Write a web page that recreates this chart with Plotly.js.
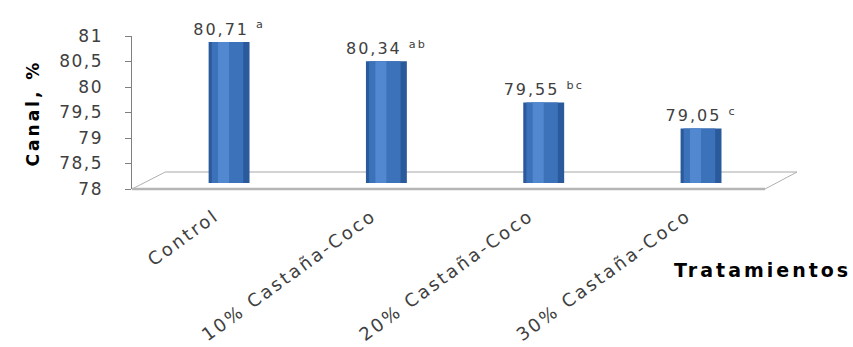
<!DOCTYPE html>
<html>
<head>
<meta charset="utf-8">
<script src="https://cdn.plot.ly/plotly-3.0.1.min.js"></script>
<style>
html,body{margin:0;padding:0;background:#fff;}
#chart{width:853px;height:347px;}
text{letter-spacing:2px;}
.xtick text{letter-spacing:2.5px;}
.ytick text, .y3tick text{letter-spacing:1.5px;}
.annotation-text{letter-spacing:3px;}
</style>
</head>
<body>
<div id="chart"></div>
<script>
const categories = ["Control", "10% Castaña-Coco", "20% Castaña-Coco", "30% Castaña-Coco"];
const values = [80.71, 80.34, 79.55, 79.05];
const letters = ["a", "ab", "bc", "c"];
const yTicks = [78, 78.5, 79, 79.5, 80, 80.5, 81];

const base = 78;
const barLen = values.map(v => v - base);
const labels = values.map((v, i) => v.toFixed(2).replace('.', ',') + ' <sup>' + letters[i] + '</sup>');

const fontFam = '"DejaVu Sans", Verdana, sans-serif';

const axisHolder = {type: 'scatter', mode: 'none', x: [], y: [], yaxis: 'y', hoverinfo: 'skip', showlegend: false};
const labelHolder = {type: 'scatter', mode: 'none', x: [], y: [], yaxis: 'y3', hoverinfo: 'skip', showlegend: false};

const outer = {
  type: 'bar', x: categories, y: barLen, base: base, yaxis: 'y2',
  width: 0.26, marker: {color: '#2a5a9c', line: {width: 0}},
  text: labels, textposition: 'outside', cliponaxis: false, constraintext: 'none',
  textfont: {family: fontFam, size: 16, color: '#404040'},
  hoverinfo: 'skip', showlegend: false
};
const mid = {
  type: 'bar', x: categories, y: barLen, base: base, yaxis: 'y2',
  width: 0.2, offset: -0.11, marker: {color: '#3b72ba', line: {width: 0}},
  hoverinfo: 'skip', showlegend: false
};
const hi = {
  type: 'bar', x: categories, y: barLen, base: base, yaxis: 'y2',
  width: 0.07, offset: -0.07, marker: {color: '#5288d0', line: {width: 0}},
  hoverinfo: 'skip', showlegend: false
};

const layout = {
  width: 853, height: 347,
  margin: {l: 103, r: 56, t: 36, b: 158},
  paper_bgcolor: '#ffffff', plot_bgcolor: 'rgba(0,0,0,0)',
  barmode: 'overlay',
  separators: ',.',
  font: {family: fontFam, color: '#404040'},
  xaxis: {
    type: 'category', range: [-0.617, 3.61], domain: [0.0418, 1],
    showline: false, showgrid: false, zeroline: false, ticks: '',
    tickangle: -36, tickfont: {family: fontFam, size: 18, color: '#404040'},
    ticklabelstandoff: 12, ticklabelshift: -14,
    fixedrange: true
  },
  yaxis: {
    range: [78, 81], tickvals: yTicks,
    showgrid: false, zeroline: false,
    showline: true, linecolor: '#808080', linewidth: 1,
    ticks: 'outside', ticklen: 6, tickcolor: '#808080',
    showticklabels: false,
    fixedrange: true
  },
  yaxis2: {
    overlaying: 'y', range: [77.885, 80.827], visible: false, fixedrange: true
  },
  yaxis3: {
    overlaying: 'y', anchor: 'free', position: 0, side: 'left',
    range: [78, 81], tickvals: yTicks,
    showgrid: false, zeroline: false, showline: false, ticks: '',
    tickfont: {family: fontFam, size: 17, color: '#404040'},
    fixedrange: true
  },
  shapes: [
    {type: 'line', xref: 'x domain', yref: 'y domain', x0: 0.05, y0: 0.111, x1: 1.0, y1: 0.111,
     line: {color: '#c4c4c4', width: 1.5}, layer: 'below'},
    {type: 'line', xref: 'x domain', yref: 'y domain', x0: 0, y0: 0, x1: 0.05, y1: 0.111,
     line: {color: '#b0b0b0', width: 1}, layer: 'below'},
    {type: 'line', xref: 'x domain', yref: 'y domain', x0: 0.952, y0: 0, x1: 1.0, y1: 0.111,
     line: {color: '#b0b0b0', width: 1}, layer: 'below'},
    {type: 'line', xref: 'x domain', yref: 'y domain', x0: 0, y0: 0, x1: 0.952, y1: 0,
     line: {color: '#b5b5b5', width: 2.5}, layer: 'below'}
  ],
  annotations: [
    {text: '<b>Tratamientos</b>', xref: 'x domain', yref: 'y domain', x: 0.812, xanchor: 'left', y: -0.614,
     showarrow: false, font: {family: fontFam, size: 19, color: '#000'}},
    {text: '<b>Canal, %</b>', xref: 'paper', yref: 'y domain', x: -0.1183, y: 0.5, textangle: -90,
     showarrow: false, font: {family: fontFam, size: 17, color: '#000'}}
  ]
};

Plotly.newPlot('chart', [axisHolder, labelHolder, outer, mid, hi], layout, {staticPlot: true, displayModeBar: false});
</script>
</body>
</html>
